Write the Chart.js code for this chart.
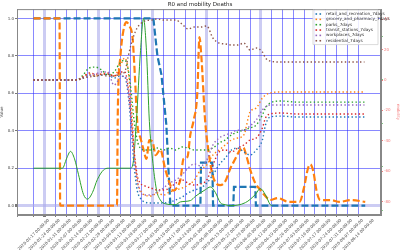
<!DOCTYPE html>
<html>
<head>
<meta charset="utf-8">
<script src="https://cdn.jsdelivr.net/npm/chart.js@4.4.0/dist/chart.umd.min.js"></script>
<style>
  html, body { margin: 0; padding: 0; background: #fff; }
</style>
</head>
<body>
<canvas id="chart" width="400" height="250"></canvas>
<script>
// x positions are days since 2020-01-17
const tickLabels = [
    '2020-01-17 00:00:00', '2020-01-24 00:00:00', '2020-01-31 00:00:00', '2020-02-07 00:00:00',
    '2020-02-14 00:00:00', '2020-02-21 00:00:00', '2020-02-28 00:00:00', '2020-03-06 00:00:00',
    '2020-03-13 00:00:00', '2020-03-20 00:00:00', '2020-03-27 00:00:00', '2020-04-03 00:00:00',
    '2020-04-10 00:00:00', '2020-04-17 00:00:00', '2020-04-24 00:00:00', '2020-05-01 00:00:00',
    '2020-05-08 00:00:00', '2020-05-15 00:00:00', '2020-05-22 00:00:00', '2020-05-29 00:00:00',
    '2020-06-05 00:00:00', '2020-06-12 00:00:00', '2020-06-19 00:00:00', '2020-06-26 00:00:00',
    '2020-07-03 00:00:00', '2020-07-10 00:00:00', '2020-07-17 00:00:00', '2020-07-24 00:00:00',
    '2020-07-31 00:00:00', '2020-08-07 00:00:00', '2020-08-14 00:00:00'
];
const valueTicks = [0, 0.2, 0.4, 0.6, 0.8, 1.0];
const mobilityTicks = [-80, -60, -40, -20, 0, 20, 40];
const deathTicks = [-60, -40, -20, 0, 20];

// left axis series, [day, value]
const dashBlue = [[0,1],[77.5,1],[80.1,0.8],[82.7,0.7],[84,0.59],[85.9,0.43],[87.2,0.2],[88.5,0],
    [107.9,0],[108.3,0.23],[115.6,0.23],[116.1,0],[129.2,0],[129.6,0.1],[143.4,0.1],[143.8,0],[214.5,0]];
const dashOrange = [[0,1],[16.8,1],[17.2,0],[54,0],[54.4,0.45],[56.2,0.8],[58,0.93],[60,0.98],[62,0.96],
    [64,0.9],[65.5,0.7],[67.2,0.43],[69.2,0.36],[71.1,0.3],[73,0.25],[74.9,0.35],[77,0.34],[79,0.27],
    [82,0.3],[85,0.2],[88,0.12],[90.4,0.08],[93,0.1],[95,0.14],[97,0.25],[99.5,0.26],[101.4,0.38],
    [103.4,0.45],[105.9,0.6],[107.3,0.9],[108.5,0.8],[111,0.45],[113,0.3],[115.6,0.17],[118,0.12],
    [120.8,0.11],[124,0.13],[127.3,0.2],[130.5,0.25],[133.7,0.3],[135.7,0.31],[137.5,0.27],[140.2,0.19],
    [143.4,0.12],[146.6,0.085],[150,0.05],[153,0.03],[158,0.04],[165,0.02],[172,0.02],[175,0.1],
    [177.5,0.2],[179,0.22],[181,0.18],[183,0.08],[185.4,0.03],[192,0.03],[198,0.02],[205,0.03],[214.5,0.02]];
const lineGreen = [[0,0.2],[18.7,0.2],[21.3,0.25],[23.9,0.29],[26.5,0.25],[29.1,0.165],[32.3,0.06],
    [34.9,0.035],[38.1,0.07],[41.3,0.14],[45.2,0.19],[48.4,0.2],[62.7,0.2],[64.6,0.24],[66.5,0.45],
    [69.2,0.83],[71.1,1.0],[73,0.83],[74.9,0.45],[76.9,0.25],[79.5,0.085],[82,0.03],[85.3,0.01],
    [91.7,0.005],[95,0.02],[101.4,0.027],[104.7,0.05],[111.1,0.085],[114.3,0.1],[117.6,0.07],
    [120.8,0.016],[124,0.005],[127.3,0],[137,0.016],[143.4,0.059],[146.6,0.091],[149.9,0.059],
    [153.1,0.005],[154.4,0]];

// mobility series (right axis), one value per day in mobDays
const mobDays = [0,20,28,32,36,40,44,48,52,56,59,61,63,65,67,69,72,76,80,84,88,92,96,100,104,108,
    112,116,120,124,128,132,136,140,144,148,150,153,160,170,180,190,200,214];
const retail = [0,0,0,1.3,3.3,2.6,3.3,3.9,1.3,2.6,2,-7.9,-29.6,-55.8,-72.3,-77.5,-80.2,-80.8,-80.8,-80.8,
    -80.2,-78.8,-76.9,-74.2,-72.3,-71,-67.7,-62.4,-55.8,-51.2,-46,-44.7,-47.3,-49.3,-46,-39.4,-29.6,-24.3,
    -23.7,-24.3,-24.3,-24.3,-24.3,-24.3];
const grocery = [0,0,0,2,3.9,2.6,3.9,4.6,2.6,9.2,14.5,7.9,-13.1,-46,-65.7,-72.3,-75.6,-76.2,-74.2,-75.6,
    -73.6,-72.3,-71,-69,-65.7,-59.1,-55.8,-49.3,-46,-42.7,-39.4,-38.1,-36.1,-21,-18.4,-11.8,-9.9,-8.5,
    -7.9,-7.9,-7.9,-7.9,-7.9,-7.9];
const parks = [0,0,0,3.3,7.9,8.5,6.6,3.3,5.3,11.2,13.1,7.9,-6.6,-26.3,-39.4,-44.7,-46,-46,-44.7,-46,
    -44.7,-46,-44,-44.7,-46,-46,-46,-44.7,-41.4,-39.4,-36.1,-34.2,-32.9,-31.5,-29.6,-23,-18.4,-15.1,
    -13.8,-14.5,-14.5,-14.5,-14.5,-14.5];
const transit = [0,0,0,2,4.6,3.9,3.9,3.9,2.6,5.3,5.3,-3.3,-23,-46,-62.4,-67.7,-69.6,-71,-72.3,-72.3,
    -71,-67.7,-65.7,-67.7,-69,-68.3,-65.7,-55.8,-47.3,-46,-47.3,-44.7,-42.7,-39.4,-38.1,-31.5,-25,
    -22.3,-21.7,-22.3,-22.3,-22.3,-22.3,-22.3];
const workplaces = [0,0,0,1.3,2.6,3.9,5.3,5.3,-3.3,1.3,2.6,-5.3,-25,-49.3,-65.7,-73.6,-75.6,-75.6,-73.6,
    -71,-67.7,-65.7,-62.4,-57.8,-55.2,-56.5,-52.6,-42.7,-38.1,-36.1,-34.8,-32.9,-32.9,-30.2,-26.3,
    -19.7,-17.7,-16.4,-16.4,-16.4,-16.4,-16.4,-16.4,-16.4];
const residential = [0,0,0,1.3,2,2.6,3.3,2.6,2.6,3.9,5.3,14.5,23,29.6,34.2,36.8,38.8,39.4,40.1,39.4,
    39.4,39.4,36.8,33.5,34.8,34.8,35.5,27.6,24.3,23.7,23,23,24.3,19.7,21,18.4,14.5,12.5,11.8,11.8,
    11.8,11.8,11.8,11.8];

const mobilityNames = ['retail_and_recreation_7days', 'grocery_and_pharmacy_7days', 'parks_7days',
    'transit_stations_7days', 'workplaces_7days', 'residential_7days'];
const mobilitySeries = [retail, grocery, parks, transit, workplaces, residential];
const colors = ['#1f77b4', '#ff7f0e', '#2ca02c', '#d62728', '#9467bd', '#8c564b'];

function pairs(arr) {
    return arr.map(p => ({ x: p[0], y: p[1] }));
}

const datasets = [
    { data: pairs(dashBlue), borderColor: colors[0], borderWidth: 2.2, borderDash: [7, 3], yAxisID: 'y', order: 9 },
    { data: pairs(dashOrange), borderColor: colors[1], borderWidth: 2.2, borderDash: [7, 3], yAxisID: 'y', order: 8, cubicInterpolationMode: 'monotone' },
    { data: pairs(lineGreen), borderColor: colors[2], borderWidth: 1, yAxisID: 'y', order: 7, cubicInterpolationMode: 'monotone' }
];
mobilitySeries.forEach((series, i) => {
    datasets.push({
        label: mobilityNames[i],
        inLegend: true,
        data: series.map((v, j) => ({ x: mobDays[j], y: v })),
        borderColor: colors[i],
        borderWidth: 1.4,
        borderDash: [1.4, 2.4],
        yAxisID: 'y1',
        order: 6 - i,
        cubicInterpolationMode: 'monotone'
    });
});

// top and right spines
const framePlugin = {
    id: 'frame',
    afterDraw(chart) {
        const a = chart.chartArea, ctx = chart.ctx;
        ctx.save();
        ctx.strokeStyle = '#888';
        ctx.lineWidth = 1;
        ctx.strokeRect(a.left + 0.5, a.top + 0.5, a.right - a.left - 1, a.bottom - a.top - 1);
        ctx.restore();
    }
};

// legend drawn in upper right of plot area
const legendPlugin = {
    id: 'boxLegend',
    afterDraw(chart) {
        const ctx = chart.ctx;
        const items = chart.data.datasets.filter(d => d.inLegend);
        const x0 = 313, y0 = 10, w = 65, rowH = 5.35;
        ctx.save();
        ctx.fillStyle = 'rgba(255,255,255,0.85)';
        ctx.strokeStyle = '#d0d0d0';
        ctx.lineWidth = 0.8;
        ctx.beginPath();
        ctx.rect(x0, y0, w, items.length * rowH + 2.5);
        ctx.fill();
        ctx.stroke();
        ctx.font = '4.2px "DejaVu Sans"';
        ctx.textBaseline = 'middle';
        items.forEach((d, i) => {
            const y = y0 + 4 + i * rowH;
            ctx.fillStyle = d.borderColor;
            ctx.fillRect(315.5, y - 0.8, 1.6, 1.6);
            ctx.fillRect(319.5, y - 0.8, 1.6, 1.6);
            ctx.fillStyle = '#333';
            ctx.fillText(d.label, 326, y);
        });
        ctx.restore();
    }
};

const lightDays = [7, 42, 77, 112, 147];

new Chart(document.getElementById('chart'), {
    type: 'line',
    data: { datasets: datasets },
    options: {
        responsive: false,
        animation: false,
        devicePixelRatio: 1,
        elements: { point: { radius: 0 } },
        layout: { padding: 0 },
        plugins: {
            legend: { display: false },
            tooltip: { enabled: false },
            title: {
                display: true,
                text: 'R0 and mobility Deaths',
                color: '#222',
                font: { family: 'DejaVu Sans', size: 5.5, weight: 'normal' },
                padding: { top: 1, bottom: 1.5 }
            }
        },
        scales: {
            x: {
                type: 'linear',
                min: -10.7,
                max: 224.7,
                afterBuildTicks: s => { s.ticks = tickLabels.map((t, i) => ({ value: i * 7 })); },
                afterFit: s => { s.height = 35; },
                ticks: {
                    callback: v => tickLabels[Math.round(v / 7)],
                    autoSkip: false,
                    minRotation: 45,
                    maxRotation: 45,
                    labelOffset: 15,
                    padding: 1,
                    color: '#555',
                    font: { family: 'DejaVu Sans', size: 4 }
                },
                grid: {
                    color: c => lightDays.includes(c.tick && c.tick.value) ? 'rgba(170,170,235,0.6)' : 'rgba(40,40,255,0.55)',
                    lineWidth: c => lightDays.includes(c.tick && c.tick.value) ? 3 : 1,
                    tickLength: 2,
                    tickColor: '#777'
                },
                border: { color: '#888' }
            },
            y: {
                position: 'left',
                min: -0.05,
                max: 1.05,
                afterBuildTicks: s => { s.ticks = valueTicks.map(v => ({ value: v })); },
                afterFit: s => { s.width = 17; },
                ticks: {
                    callback: v => v.toFixed(1),
                    padding: 1,
                    color: '#444',
                    font: { family: 'DejaVu Sans', size: 4 }
                },
                title: {
                    display: true,
                    text: 'Value',
                    color: '#444',
                    padding: 0,
                    font: { family: 'DejaVu Sans', size: 4 }
                },
                grid: {
                    color: c => c.tick && c.tick.value === 0 ? 'rgba(170,170,235,0.6)' : 'rgba(40,40,255,0.55)',
                    lineWidth: c => c.tick && c.tick.value === 0 ? 3 : 1,
                    tickLength: 2,
                    tickColor: '#777'
                },
                border: { color: '#888' }
            },
            y2: {
                position: 'right',
                weight: 0,
                min: -62.1,
                max: 32.6,
                afterBuildTicks: s => { s.ticks = deathTicks.map(v => ({ value: v })); },
                afterFit: s => { s.width = 0; },
                ticks: {
                    padding: 1,
                    color: 'rgba(44,160,44,0.6)',
                    font: { family: 'DejaVu Sans', size: 4 }
                },
                grid: { drawOnChartArea: false, tickLength: 2, tickColor: 'rgba(44,160,44,0.6)' },
                border: { display: false }
            },
            y1: {
                position: 'right',
                weight: 1,
                min: -88.7,
                max: 46.6,
                afterBuildTicks: s => { s.ticks = mobilityTicks.map(v => ({ value: v })); },
                afterFit: s => { s.width = 19; },
                ticks: {
                    padding: 1,
                    color: 'rgba(240,80,80,0.75)',
                    font: { family: 'DejaVu Sans', size: 4 }
                },
                title: {
                    display: true,
                    text: 'mobility',
                    color: 'rgba(240,80,80,0.8)',
                    padding: 0,
                    font: { family: 'DejaVu Sans', size: 4 }
                },
                grid: { drawOnChartArea: false, tickLength: 2, tickColor: 'rgba(240,80,80,0.75)' },
                border: { color: '#888' }
            }
        }
    },
    plugins: [framePlugin, legendPlugin]
});
</script>
</body>
</html>
